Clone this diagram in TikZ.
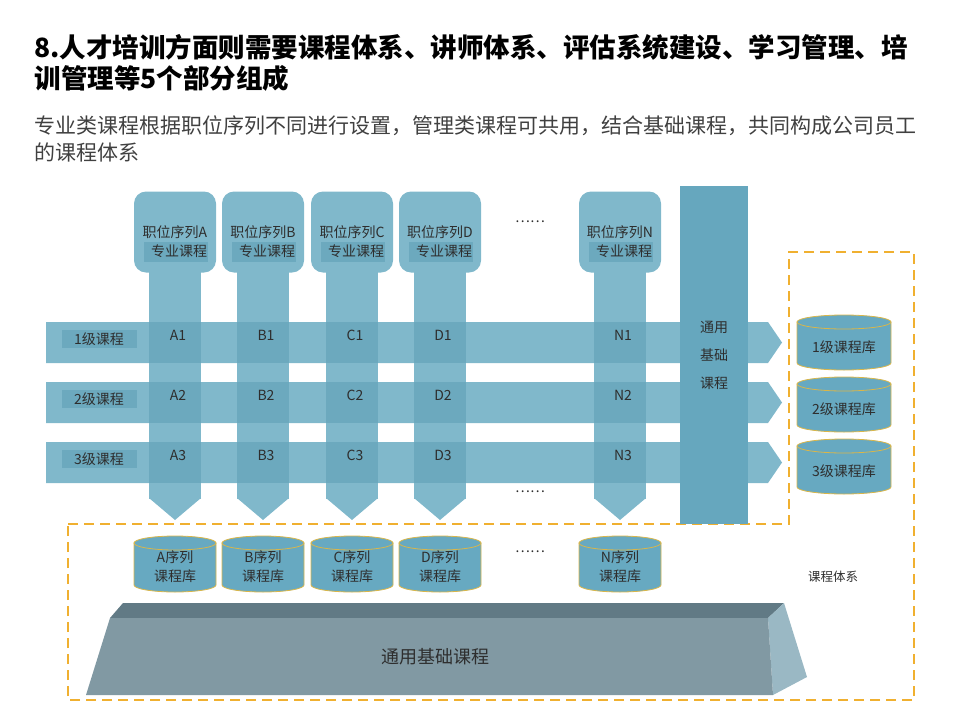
\documentclass[tikz,border=0pt]{standalone}
\usepackage{fontspec}
\setmainfont{Noto Sans CJK SC}
\usetikzlibrary{positioning}
\definecolor{bandblue}{HTML}{80B8CB}
\definecolor{cellblue}{HTML}{6CA9BE}
\definecolor{baseblue}{HTML}{66A7BE}
\definecolor{dbblue}{HTML}{67A9C1}
\definecolor{dbgold}{HTML}{D9B64A}
\definecolor{dashgold}{HTML}{F0B030}
\definecolor{inktext}{HTML}{2E2E2E}
\definecolor{basetop}{HTML}{617A85}
\definecolor{baseside}{HTML}{9AB8C4}
\definecolor{basefront}{HTML}{8199A3}
\tikzset{
  band/.style={fill=bandblue},
  headbox/.style={fill=bandblue, rounded corners=12pt, minimum width=82pt, minimum height=81pt, inner sep=0pt},
  cell/.style={fill=cellblue},
  txt/.style={text=inktext, font=\fontsize{14}{16}\selectfont, inner sep=1pt},
  db/.style={fill=dbblue, draw=dbgold, line width=0.8pt},
}
\begin{document}
\begin{tikzpicture}[x=1pt,y=-1pt]
  \useasboundingbox (0,0) rectangle (960,720);
  % title
  \node[anchor=west, font=\fontsize{26.5}{30}\bfseries\selectfont, text=black] (title1) at (31,47) {8.人才培训方面则需要课程体系、讲师体系、评估系统建设、学习管理、培};
  \node[anchor=west, font=\fontsize{26.5}{30}\bfseries\selectfont, text=black] (title2) at (31,78) {训管理等5个部分组成};
  \node[anchor=west, font=\fontsize{21}{24}\selectfont, text=black!75] (sub1) at (31,126) {专业类课程根据职位序列不同进行设置，管理类课程可共用，结合基础课程，共同构成公司员工};
  \node[anchor=west, font=\fontsize{21}{24}\selectfont, text=black!75] (sub2) at (31,152) {的课程体系};
  % dashed frame
  \draw[dashgold, line width=2.6pt, dash pattern=on 10pt off 6pt]
    (68,524) -- (789,524) -- (789,252) -- (914,252) -- (914,700) -- (68,700) -- cycle;
  % columns
  \foreach \n/\cx in {A/175,B/263,C/352,D/440,N/620}{
    \node[headbox] (head\n) at (\cx,232) {};
    \fill[band] (\cx-26,272) rectangle (\cx+26,499);
    \fill[band] (\cx-26,498) -- (\cx+26,498) -- (\cx,520) -- cycle;
  }
  % rows
  \foreach \r/\y in {1/322,2/382,3/442}{
    \fill[band] (46,\y) -- (768,\y) -- (782,\y+20.5) -- (768,\y+41) -- (46,\y+41) -- cycle;
    \fill[cell] (62,\y+8) rectangle (137,\y+26);
    \node[txt] (row\r) at (99,\y+17) {\r 级课程};
    \foreach \n/\cx in {A/175,B/263,C/352,D/440,N/620}{
      \fill[cell] (\cx-26,\y) rectangle (\cx+26,\y+41);
      \node[txt] (cell\n\r) at (\cx+3,\y+13) {\n\r};
    }
  }
  % head labels
  \foreach \n/\cx in {A/175,B/263,C/352,D/440,N/620}{
    \fill[cell] (\cx-31,242) rectangle (\cx+33,262);
    \node[txt] (job\n) at (\cx,232) {职位序列\n};
    \node[txt] (pro\n) at (\cx+4,251) {专业课程};
  }
  % generic column
  \fill[baseblue] (680,186) rectangle (748,524);
  \node[txt, align=center, font=\fontsize{14}{28}\selectfont] (generic) at (714,355) {通用\\基础\\课程};
  % level libraries
  \foreach \r/\ty in {1/315,2/377,3/439}{
    \fill[db] (797,\ty+7) -- (797,\ty+48) arc[start angle=180,end angle=0,x radius=47,y radius=7] -- (891,\ty+7) -- cycle;
    \draw[db] (844,\ty+7) ellipse[x radius=47,y radius=7];
    \node[txt] (lib\r) at (844,\ty+32) {\r 级课程库};
  }
  % series libraries
  \foreach \n/\cx in {A/175,B/263,C/352,D/440,N/620}{
    \fill[db] (\cx-41,543) -- (\cx-41,585) arc[start angle=180,end angle=0,x radius=41,y radius=7] -- (\cx+41,543) -- cycle;
    \draw[db] (\cx,543) ellipse[x radius=41,y radius=7];
    \node[txt, align=center, font=\fontsize{14}{19}\selectfont] (ser\n) at (\cx,567) {\n 序列\\课程库};
  }
  % dots
  \node[txt] (dots1) at (530,222) {……};
  \node[txt] (dots2) at (530,492) {……};
  \node[txt] (dots3) at (530,552) {……};
  \node[txt, font=\fontsize{12.5}{14}\selectfont] (system) at (833,577) {课程体系};
  % base
  \fill[basetop] (110,618) -- (123,603) -- (784,603) -- (768,618) -- cycle;
  \fill[baseside] (768,618) -- (784,603) -- (807,677) -- (773,695) -- cycle;
  \fill[basefront] (110,618) -- (768,618) -- (773,695) -- (86,695) -- cycle;
  \node[txt, font=\fontsize{18}{20}\selectfont] (basetxt) at (435,657) {通用基础课程};
\end{tikzpicture}
\end{document}
